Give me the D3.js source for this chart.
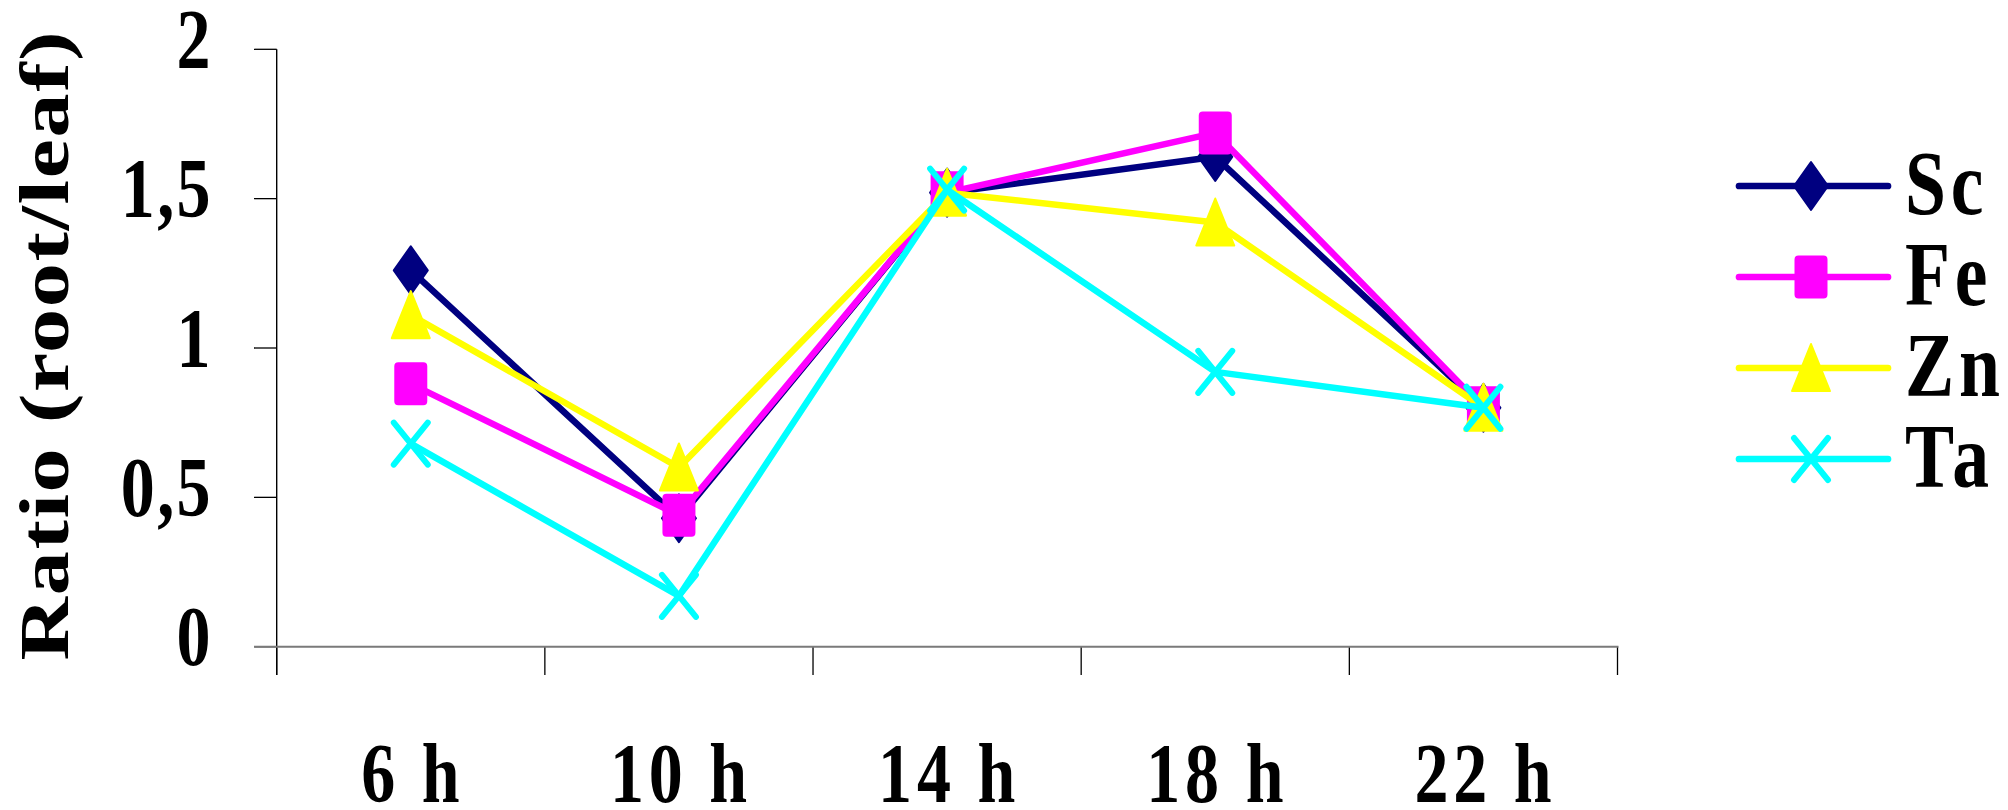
<!DOCTYPE html>
<html>
<head>
<meta charset="utf-8">
<script src="https://cdn.jsdelivr.net/npm/d3@7"></script>
<style>
  html, body { margin: 0; padding: 0; background: #fff; }
  svg { display: block; }
  text { font-family: "Liberation Serif", "Times New Roman", serif; font-weight: bold; fill: #000; }
</style>
</head>
<body>
<svg id="chart" width="2008" height="810"></svg>
<script>
// ---- data ----
const categories = ["6 h", "10 h", "14 h", "18 h", "22 h"];
const seriesNames = ["Sc", "Fe", "Zn", "Ta"];
const scValues = [1.26, 0.43, 1.52, 1.64, 0.80];
const feValues = [0.88, 0.44, 1.52, 1.72, 0.80];
const znValues = [1.11, 0.60, 1.52, 1.42, 0.80];
const taValues = [0.68, 0.17, 1.53, 0.92, 0.80];
const yTickValues = [0, 0.5, 1, 1.5, 2];
const yTickLabels = ["0", "0,5", "1", "1,5", "2"];
const yTitle = "Ratio (root/leaf)";

const seriesColors = ["#000080", "#FF00FF", "#FFFF00", "#00FFFF"];
const seriesMarkers = ["diamond", "square", "triangle", "x"];
const seriesValues = [scValues, feValues, znValues, taValues];

// ---- layout ----
const svg = d3.select("#chart");
const SQ = 0.8; // horizontal condensation of text

const x = d3.scaleBand().domain(categories).range([276.7, 1617.5]).padding(0);
const y = d3.scaleLinear().domain([0, 2]).range([646.7, 49.3]);

// y axis ticks
const yAxisG = svg.append("g");
yAxisG.selectAll("line.yt").data(yTickValues).enter().append("line")
  .attr("x1", 254).attr("x2", 276.7)
  .attr("y1", d => y(d)).attr("y2", d => y(d))
  .attr("stroke", "#000").attr("stroke-width", 1.3);
yAxisG.append("line")
  .attr("x1", 276.7).attr("x2", 276.7)
  .attr("y1", y(2)).attr("y2", 675)
  .attr("stroke", "#000").attr("stroke-width", 1.4);

// x axis ticks at band boundaries
const xBounds = categories.map(c => x(c)).concat([x.range()[1]]);
svg.append("g").selectAll("line").data(xBounds).enter().append("line")
  .attr("x1", d => d).attr("x2", d => d)
  .attr("y1", y(0)).attr("y2", 675)
  .attr("stroke", "#000").attr("stroke-width", 1.3);
svg.append("line")
  .attr("x1", 254).attr("x2", x.range()[1] + 1)
  .attr("y1", y(0)).attr("y2", y(0))
  .attr("stroke", "#7a7a7a").attr("stroke-width", 2);

// y tick labels
svg.append("g").selectAll("text").data(yTickValues).enter().append("text")
  .attr("transform", d => `translate(213,${y(d) + 18.5}) scale(${SQ},1)`)
  .attr("text-anchor", "end")
  .attr("font-size", 85)
  .attr("letter-spacing", 3)
  .text((d, i) => yTickLabels[i]);

// x tick labels
svg.append("g").selectAll("text").data(categories).enter().append("text")
  .attr("transform", d => `translate(${x(d) + x.bandwidth() / 2 + 2},802) scale(${SQ},1)`)
  .attr("text-anchor", "middle")
  .attr("font-size", 85)
  .attr("letter-spacing", 6)
  .attr("xml:space", "preserve")
  .text(d => d);

// y title
svg.append("text")
  .attr("transform", `translate(68,346) scale(${SQ},1) rotate(-90)`)
  .attr("text-anchor", "middle")
  .attr("font-size", 88)
  .attr("textLength", 629)
  .attr("lengthAdjust", "spacing")
  .text(yTitle);

// markers
function drawMarker(g, type, color, cx, cy) {
  if (type === "diamond") {
    g.append("path").attr("d", `M${cx},${cy - 24}L${cx + 17},${cy}L${cx},${cy + 24}L${cx - 17},${cy}Z`)
      .attr("fill", color).attr("stroke", color).attr("stroke-width", 2).attr("stroke-linejoin", "round");
  } else if (type === "square") {
    g.append("rect").attr("x", cx - 15.5).attr("y", cy - 20.5).attr("width", 31).attr("height", 41)
      .attr("rx", 3).attr("fill", color).attr("stroke", color).attr("stroke-width", 2);
  } else if (type === "triangle") {
    g.append("path").attr("d", `M${cx},${cy - 24}L${cx + 19},${cy + 23}L${cx - 19},${cy + 23}Z`)
      .attr("fill", color).attr("stroke", color).attr("stroke-width", 2).attr("stroke-linejoin", "round");
  } else {
    g.append("path").attr("d", `M${cx - 17},${cy - 21}L${cx + 17},${cy + 21}M${cx + 17},${cy - 21}L${cx - 17},${cy + 21}`)
      .attr("fill", "none").attr("stroke", color).attr("stroke-width", 6).attr("stroke-linecap", "round");
  }
}

// series
const line = d3.line().x((d, i) => x(categories[i]) + x.bandwidth() / 2).y(d => y(d));
seriesValues.forEach((vals, si) => {
  const g = svg.append("g");
  g.append("path").datum(vals).attr("d", line)
    .attr("fill", "none").attr("stroke", seriesColors[si]).attr("stroke-width", 6.5)
    .attr("stroke-linejoin", "round").attr("stroke-linecap", "round");
  vals.forEach((v, i) => drawMarker(g, seriesMarkers[si], seriesColors[si], x(categories[i]) + x.bandwidth() / 2, y(v)));
});

// legend
const legend = svg.append("g");
seriesNames.forEach((name, i) => {
  const ly = 186 + i * 91;
  legend.append("line").attr("x1", 1739).attr("x2", 1888).attr("y1", ly).attr("y2", ly)
    .attr("stroke", seriesColors[i]).attr("stroke-width", 6.7).attr("stroke-linecap", "round");
  drawMarker(legend, seriesMarkers[i], seriesColors[i], 1811, ly);
  legend.append("text")
    .attr("transform", `translate(1905,${ly + 28}) scale(${SQ},1)`)
    .attr("font-size", 92)
    .attr("letter-spacing", 6)
    .text(name);
});
</script>
</body>
</html>
